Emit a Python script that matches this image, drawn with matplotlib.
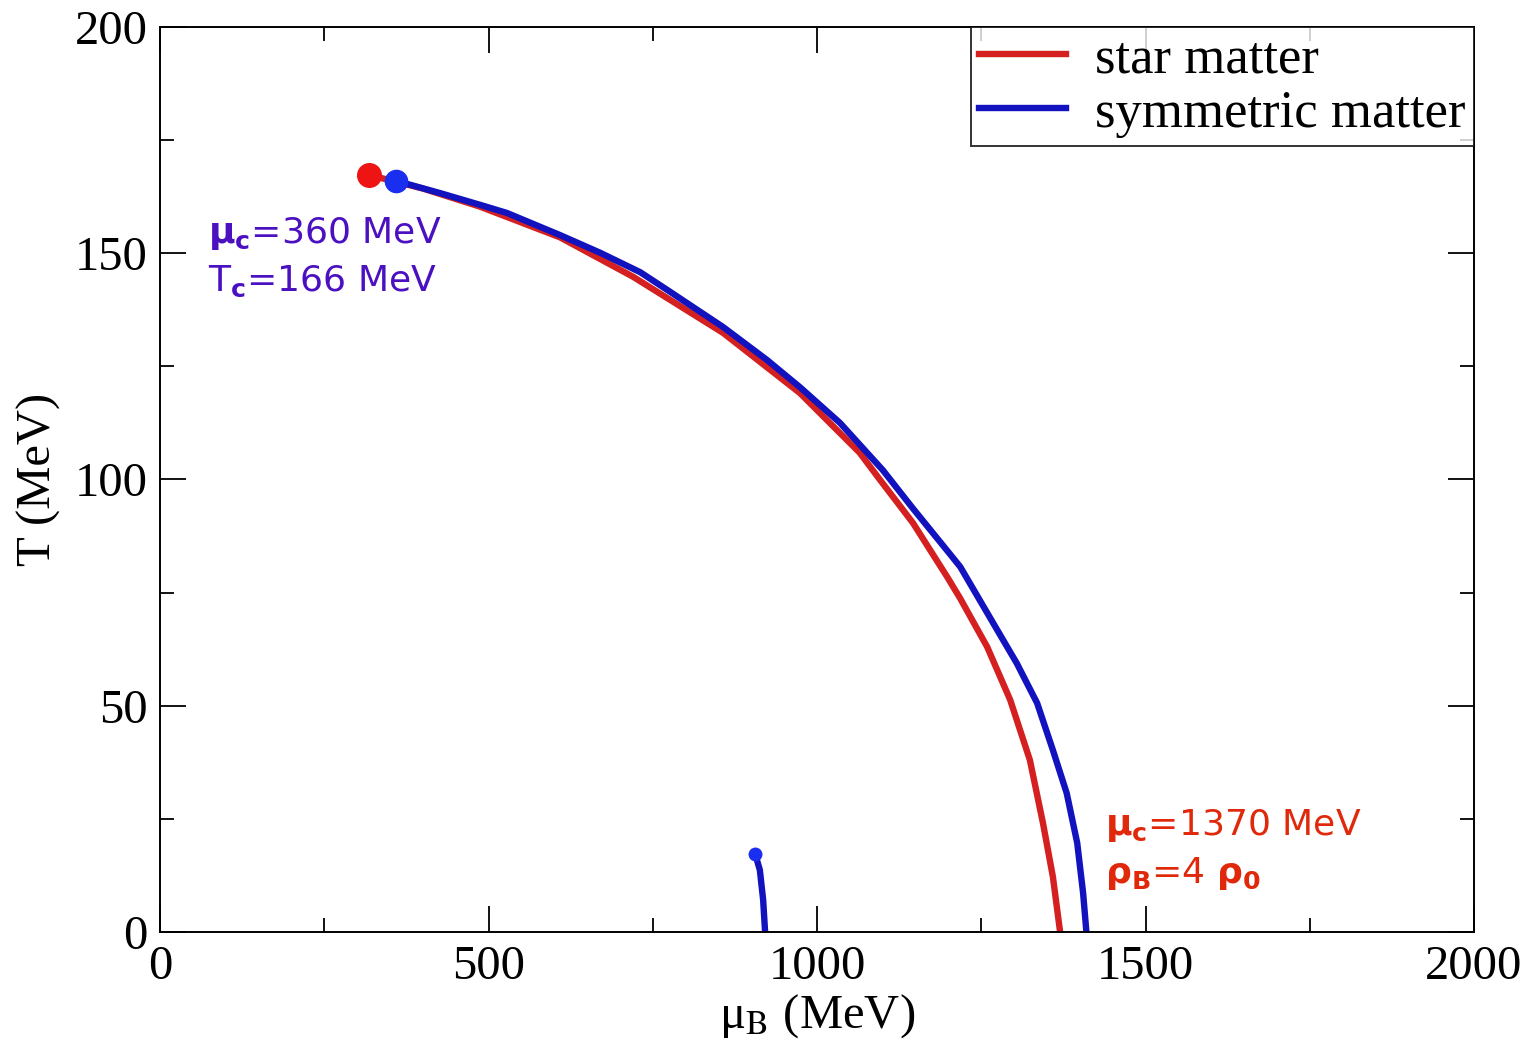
import matplotlib
matplotlib.use("Agg")
import matplotlib.pyplot as plt
from matplotlib.ticker import MultipleLocator

# phase boundaries (mu_B in MeV, T in MeV)
star_mu = [318, 400, 487, 609, 720, 857, 974, 1065, 1096, 1146, 1198, 1218, 1259, 1294, 1324, 1344, 1359, 1370]
star_T = [167.3, 164.3, 160.3, 153.5, 144.8, 132.4, 119.1, 105.9, 99.9, 90.4, 78.5, 73.7, 63.0, 51.3, 38.0, 24.0, 12.2, 0]

sym_mu = [359, 426, 487, 528, 609, 670, 731, 772, 857, 924, 974, 1035, 1100, 1146, 1198, 1218,
          1268, 1304, 1335, 1359, 1380, 1396, 1405, 1410]
sym_T = [166, 163.3, 160.7, 158.9, 154, 150.1, 145.8, 141.9, 133.7, 126.4, 120.4, 112.5, 102.1, 93.6, 84.3, 80.7,
         68.3, 59.4, 50.6, 40.2, 30.7, 19.7, 8.6, 0]

# short low-temperature branch of symmetric matter
branch_mu = [906, 913, 918, 921]
branch_T = [17.2, 13.7, 7.1, 0]

# critical end points
star_cep = (318, 167.3)
sym_cep = (359, 166)
branch_cep = (906, 17.2)

red = "#d42020"
blue = "#1212bf"

plt.rcParams["font.family"] = ["Liberation Serif", "DejaVu Serif"]

fig = plt.figure(figsize=(15.31, 10.45), dpi=100)
ax = fig.add_axes([0.1045, 0.1081, 0.8583, 0.8661])

ax.plot(star_mu, star_T, color=red, lw=4.6, label="star matter", solid_joinstyle="round")
ax.plot(sym_mu, sym_T, color=blue, lw=4.6, label="symmetric matter", solid_joinstyle="round")
ax.plot(branch_mu, branch_T, color=blue, lw=4.6, solid_joinstyle="round")

ax.plot(*star_cep, "o", color="#ee1414", ms=17, zorder=5)
ax.plot(*sym_cep, "o", color="#1a2ef0", ms=16, zorder=5)
ax.plot(*branch_cep, "o", color="#1a2ef0", ms=9, zorder=5)

ax.set_xlim(0, 2000)
ax.set_ylim(0, 200)
ax.xaxis.set_major_locator(MultipleLocator(500))
ax.xaxis.set_minor_locator(MultipleLocator(250))
ax.yaxis.set_major_locator(MultipleLocator(50))
ax.yaxis.set_minor_locator(MultipleLocator(25))
ax.tick_params(which="both", direction="in", top=True, right=True, width=1.3, labelsize=35)
ax.tick_params(which="major", length=19)
ax.tick_params(which="minor", length=10)
ax.tick_params(axis="x", pad=9)
ax.tick_params(axis="y", pad=9)
for s in ax.spines.values():
    s.set_linewidth(1.4)

ax.set_xlabel("μ$_\\mathrm{B}$ (MeV)", fontsize=35, labelpad=3, math_fontfamily="stix")
ax.set_ylabel("T (MeV)", fontsize=35, labelpad=10)

leg = ax.legend(loc="upper right", fontsize=38, frameon=True, fancybox=False,
                borderaxespad=0, borderpad=0.16, handlelength=1.65, handletextpad=0.55,
                labelspacing=0.12)
leg.get_frame().set_edgecolor("black")
leg.get_frame().set_linewidth(1.4)
for h in leg.get_lines():
    h.set_linewidth(4.6)

ann_kw = dict(fontsize=26, family="DejaVu Sans", math_fontfamily="dejavusans", va="baseline")
ax.text(73, 152.3, r"$\mathbf{\mu}_{\mathbf{c}}$=360 MeV", color="#4b10c0", **ann_kw)
ax.text(73, 141.7, r"T$_{\mathbf{c}}$=166 MeV", color="#4b10c0", **ann_kw)
ax.text(1438, 21.4, r"$\mathbf{\mu}_{\mathbf{c}}$=1370 MeV", color="#e0280a", **ann_kw)
ax.text(1438, 10.8, r"$\mathbf{\rho}_{\mathbf{B}}$=4 $\mathbf{\rho}_{\mathbf{0}}$", color="#e0280a", **ann_kw)

fig.savefig("out.png", dpi=100)
